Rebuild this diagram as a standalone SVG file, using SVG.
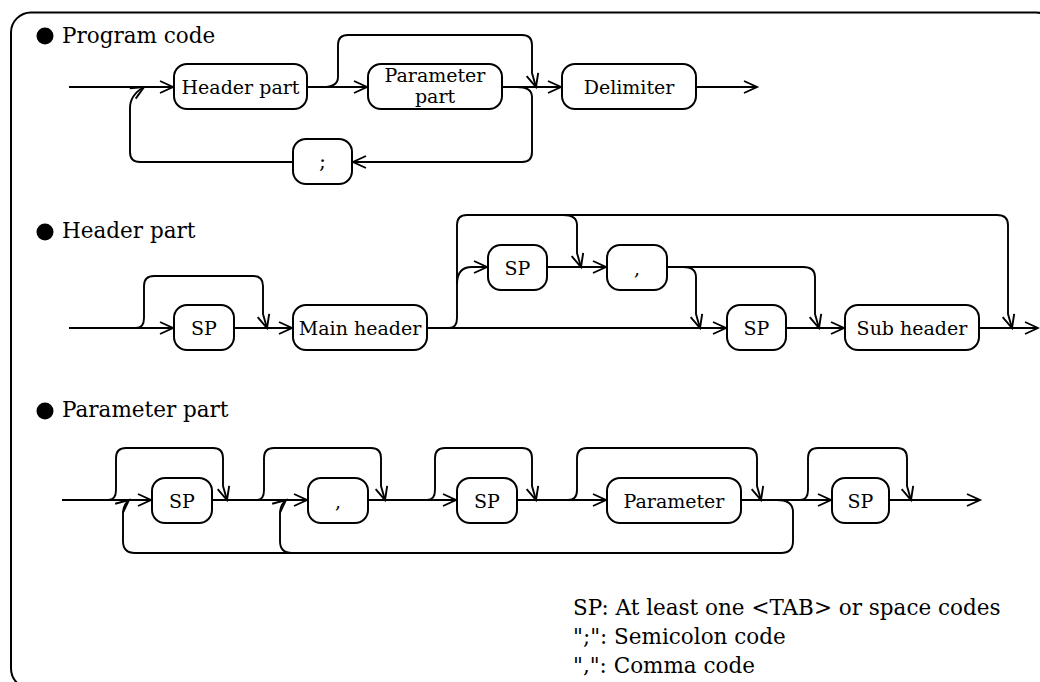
<svg xmlns="http://www.w3.org/2000/svg" width="1040" height="682" viewBox="0 0 1040 682">
<style>
.box{fill:#fff;stroke:#000;stroke-width:2}
.ln{fill:none;stroke:#000;stroke-width:1.9}
.t{font-family:"DejaVu Serif","Liberation Serif",serif;font-size:19px;fill:#000;text-anchor:middle}
.h{font-family:"DejaVu Serif","Liberation Serif",serif;font-size:21.5px;fill:#000}
.lg{font-family:"DejaVu Serif","Liberation Serif",serif;font-size:21.5px;fill:#000}
</style>
<defs>
<marker id="arr" markerUnits="userSpaceOnUse" markerWidth="30" markerHeight="30" refX="0" refY="0" orient="auto" overflow="visible">
<path d="M-13,-6 L0,0 L-13,6" fill="none" stroke="#000" stroke-width="1.9"/>
</marker>
</defs>
<rect x="11" y="12.5" width="1045" height="676" rx="20" fill="none" stroke="#000" stroke-width="2"/>
<g id="titles">
<circle cx="45" cy="36" r="8.5"/>
<text class="h" x="62" y="43">Program code</text>
<circle cx="45" cy="232" r="8.5"/>
<text class="h" x="62" y="238">Header part</text>
<circle cx="45" cy="411" r="8.5"/>
<text class="h" x="62" y="417">Parameter part</text>
</g>
<g id="connectors">
<path class="ln" marker-end="url(#arr)" d="M69,87 L173,87"/>
<path class="ln" marker-end="url(#arr)" d="M307,87 L367,87"/>
<path class="ln" marker-end="url(#arr)" d="M323,87 Q338,87 338,77 L338,45 Q338,35 348,35 L522,35 Q532,35 532,45 L532,73 L536,87"/>
<path class="ln" marker-end="url(#arr)" d="M502,87 L561,87"/>
<path class="ln" marker-end="url(#arr)" d="M696,87 L757,87"/>
<path class="ln" marker-end="url(#arr)" d="M517,87 Q532,87 532,97 L532,152 Q532,162 522,162 L353,162"/>
<path class="ln" marker-end="url(#arr)" d="M293,162 L140,162 Q130,162 130,152 L130,108 Q130,95 144,87"/>

<path class="ln" marker-end="url(#arr)" d="M69,328 L173,328"/>
<path class="ln" marker-end="url(#arr)" d="M136,328 Q144,328 144,318 L144,286 Q144,276 154,276 L253,276 Q263,276 263,286 L263,314 L267,328"/>
<path class="ln" marker-end="url(#arr)" d="M234,328 L292,328"/>
<path class="ln" marker-end="url(#arr)" d="M427,328 L726,328"/>
<path class="ln" marker-end="url(#arr)" d="M449,328 Q457,328 457,318 L457,225 Q457,215 467,215 L997,215 Q1008,215 1008,225 L1008,314 L1012,328"/>
<path class="ln" marker-end="url(#arr)" d="M457,284 Q457,267 472,267 L487,267"/>
<path class="ln" marker-end="url(#arr)" d="M547,267 L606,267"/>
<path class="ln" marker-end="url(#arr)" d="M563,215 Q577,215 577,225 L577,253 L581,267"/>
<path class="ln" marker-end="url(#arr)" d="M667,267 L803,267 Q815,267 815,277 L815,314 L819,328"/>
<path class="ln" marker-end="url(#arr)" d="M683,267 Q696,267 696,277 L696,314 L700,328"/>
<path class="ln" marker-end="url(#arr)" d="M786,328 L844,328"/>
<path class="ln" marker-end="url(#arr)" d="M979,328 L1038,328"/>

<path class="ln" marker-end="url(#arr)" d="M62,500 L151,500"/>
<path class="ln" marker-end="url(#arr)" d="M108,500 Q116,500 116,490 L116,458 Q116,448 126,448 L213,448 Q223,448 223,458 L223,486 L227,500"/>
<path class="ln" marker-end="url(#arr)" d="M212,500 L307,500"/>
<path class="ln" marker-end="url(#arr)" d="M777,500 Q793,500 793,512 L793,541 Q793,553 781,553 L135,553 Q123,553 123,541 L123,514 Q123,505 129,500"/>
<path class="ln" marker-end="url(#arr)" d="M667,553 L292,553 Q280,553 280,541 L280,514 Q280,505 286,500"/>
<path class="ln" marker-end="url(#arr)" d="M257,500 Q264,500 264,490 L264,458 Q264,448 274,448 L371,448 Q381,448 381,458 L381,486 L385,500"/>
<path class="ln" marker-end="url(#arr)" d="M368,500 L456,500"/>
<path class="ln" marker-end="url(#arr)" d="M427,500 Q435,500 435,490 L435,458 Q435,448 445,448 L522,448 Q532,448 532,458 L532,486 L536,500"/>
<path class="ln" marker-end="url(#arr)" d="M517,500 L606,500"/>
<path class="ln" marker-end="url(#arr)" d="M568,500 Q577,500 577,490 L577,458 Q577,448 587,448 L747,448 Q757,448 757,458 L757,486 L761,500"/>
<path class="ln" marker-end="url(#arr)" d="M741,500 L831,500"/>
<path class="ln" marker-end="url(#arr)" d="M800,500 Q808,500 808,490 L808,458 Q808,448 818,448 L897,448 Q907,448 907,458 L907,486 L911,500"/>
<path class="ln" marker-end="url(#arr)" d="M889,500 L980,500"/>
</g>
<g id="n-header-part"><rect class="box" x="174" y="64" width="133" height="45" rx="13"/><text class="t" x="240.5" y="94">Header part</text></g>
<g id="n-parameter-part"><rect class="box" x="368" y="64" width="134" height="45" rx="13"/><text class="t" x="435" y="82">Parameter</text><text class="t" x="435" y="103">part</text></g>
<g id="n-delimiter"><rect class="box" x="562" y="64" width="134" height="45" rx="13"/><text class="t" x="629" y="94">Delimiter</text></g>
<g id="n-semicolon"><rect class="box" x="293" y="139" width="59" height="45" rx="13"/><text class="t" x="322.5" y="168" style="font-size:21px">;</text></g>

<g id="n-sp-h1"><rect class="box" x="174" y="305" width="60" height="45" rx="13"/><text class="t" x="204" y="335">SP</text></g>
<g id="n-main-header"><rect class="box" x="293" y="305" width="134" height="45" rx="13"/><text class="t" x="360" y="335">Main header</text></g>
<g id="n-sp-h2"><rect class="box" x="488" y="245" width="59" height="45" rx="13"/><text class="t" x="517.5" y="274.5">SP</text></g>
<g id="n-comma-h"><rect class="box" x="607" y="245" width="60" height="45" rx="13"/><text class="t" x="637" y="274.5">,</text></g>
<g id="n-sp-h3"><rect class="box" x="727" y="305" width="59" height="45" rx="13"/><text class="t" x="756.5" y="335">SP</text></g>
<g id="n-sub-header"><rect class="box" x="845" y="305" width="134" height="45" rx="13"/><text class="t" x="912" y="335">Sub header</text></g>

<g id="n-sp-p1"><rect class="box" x="152" y="478" width="60" height="45" rx="13"/><text class="t" x="182" y="507.5">SP</text></g>
<g id="n-comma-p"><rect class="box" x="308" y="478" width="60" height="45" rx="13"/><text class="t" x="338" y="507.5">,</text></g>
<g id="n-sp-p2"><rect class="box" x="457" y="478" width="60" height="45" rx="13"/><text class="t" x="487" y="507.5">SP</text></g>
<g id="n-parameter"><rect class="box" x="607" y="478" width="134" height="45" rx="13"/><text class="t" x="674" y="507.5">Parameter</text></g>
<g id="n-sp-p3"><rect class="box" x="832" y="478" width="57" height="45" rx="13"/><text class="t" x="860.5" y="507.5">SP</text></g>

<g id="legend">
<text class="lg" x="573" y="615">SP: At least one &lt;TAB&gt; or space codes</text>
<text class="lg" x="573" y="644">";": Semicolon code</text>
<text class="lg" x="573" y="673">",": Comma code</text>
</g>
</svg>
